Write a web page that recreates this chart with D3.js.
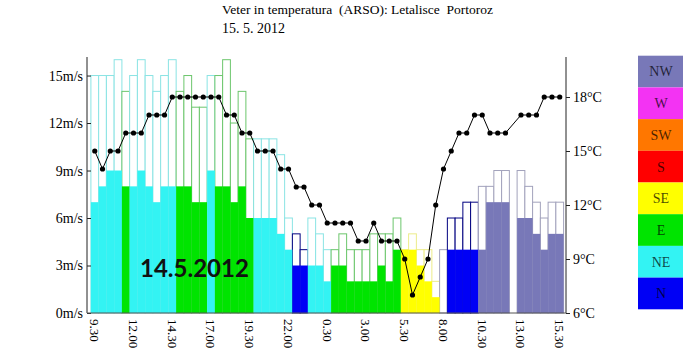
<!DOCTYPE html>
<html><head><meta charset="utf-8">
<script src="https://cdn.jsdelivr.net/npm/d3@7"></script>
<style>body{margin:0;background:#fff}svg{display:block}</style>
</head><body>
<svg id="c" width="700" height="363"></svg>
<script>
// half-hourly observations, 14.5.2012 9.30 -> 15.5.2012 15.30
const times = ["9.30","10.00","10.30","11.00","11.30","12.00","12.30","13.00","13.30","14.00",
  "14.30","15.00","15.30","16.00","16.30","17.00","17.30","18.00","18.30","19.00",
  "19.30","20.00","20.30","21.00","21.30","22.00","22.30","23.00","23.30","0.00",
  "0.30","1.00","1.30","2.00","2.30","3.00","3.30","4.00","4.30","5.00",
  "5.30","6.00","6.30","7.00","7.30","8.00","8.30","9.00","9.30","10.00",
  "10.30","11.00","11.30","12.00","12.30","13.00","13.30","14.00","14.30","15.00","15.30"];
const speed = [7,8,9,9,8,8,9,8,7,8, 8,8,8,7,7,9,8,8,7,8, 6,6,6,6,5,4,3,3,3,3,
  2,3,3,2,2,2,2,3,2,4, 4,4,3,2,1,0,4,4,4,4, 4,7,7,7,null,6,6,5,4,5,5];
const gust = [15,15,15,16,14,15,16,15,14,15, 16,14,15,13,13,15,15,16,12,14, 11,11,11,11,10,6,5,4,6,5,
  4,4,5,4,4,4,5,5,5,6, 4,5,4,4,2,4,6,6,7,7, 8,8,9,9,null,9,8,7,6,7,7];
const temp = [15,14,15,15,16,16,16,17,17,17, 18,18,18,18,18,18,18,17,17,16, 16,15,15,15,14,14,13,13,12,12,
  11,11,11,11,10,10,11,10,10,10, 9,7,8,9,12,14,15,16,16,17, 17,16,16,16,null,17,17,17,18,18,18];
const dirs = ["NE","NE","NE","NE","E","NE","NE","NE","NE","NE",
  "NE","E","E","E","E","NE","E","E","E","E",
  "E","NE","NE","NE","NE","NE","N","N","NE","NE",
  "NE","E","E","E","E","E","E","E","E","E",
  "SE","SE","SE","SE","SE","NW","N","N","N","N",
  "NW","NW","NW","NW",null,"NW","NW","NW","NW","NW","NW"];
const windTicks = [0,3,6,9,12,15];
const tempTicks = [6,9,12,15,18];
const legendDirs = ["NW","W","SW","S","SE","E","NE","N"];
const dirFill = {N:"#0000f5",NE:"#33f3f3",E:"#00e400",SE:"#ffff00",S:"#ff0000",SW:"#ff7700",W:"#f333f3",NW:"#7878b8"};
const dirStroke = {N:"#000080",NE:"#8ae4e4",E:"#6cc66c",SE:"#ecec8a",S:"#cc6666",SW:"#cc9966",W:"#cc88cc",NW:"#a2a2bc"};

const svg = d3.select("#c");
const x = d3.scaleBand().domain(d3.range(times.length)).range([90.9, 563.6]).padding(0);
const bw = x.bandwidth();
const yW = d3.scaleLinear().domain([0,16]).range([313, 59.7]);
const yT = d3.scaleLinear().domain([6,20]).range([313, 61]);
const rows = times.map((t,i)=>({i, t, s:speed[i], g:gust[i], temp:temp[i], d:dirs[i]}));
const valid = rows.filter(r=>r.s!=null);

// title
const title = svg.append("g").attr("font-family","Liberation Serif").attr("fill","#000");
title.append("text").attr("x",222).attr("y",13.5).attr("font-size",13.5).style("white-space","pre")
  .text("Veter in temperatura  (ARSO): Letalisce  Portoroz");
title.append("text").attr("x",222).attr("y",33).attr("font-size",14).style("white-space","pre").text("15. 5. 2012");

// gust outlines
svg.append("g").selectAll("rect").data(valid).join("rect")
  .attr("x",d=>x(d.i)).attr("width",bw)
  .attr("y",d=>yW(d.g)).attr("height",d=>yW(0)-yW(d.g))
  .attr("fill","#fff").attr("stroke",d=>dirStroke[d.d]).attr("stroke-width",1);
// mean wind speed
svg.append("g").selectAll("rect").data(valid.filter(d=>d.s>0)).join("rect")
  .attr("x",d=>x(d.i)).attr("width",bw)
  .attr("y",d=>yW(d.s)).attr("height",d=>yW(0)-yW(d.s))
  .attr("fill",d=>dirFill[d.d]);

// date label
svg.append("text").attr("x",140).attr("y",277).attr("font-family","Lato").attr("font-weight","bold")
  .attr("font-size",24).attr("fill","#111").text("14.5.2012");

// temperature line
const tRows = rows.filter(r=>r.temp!=null);
svg.append("path").datum(tRows)
  .attr("d",d3.line().x(d=>x(d.i)+bw/2).y(d=>yT(d.temp)))
  .attr("fill","none").attr("stroke","#000").attr("stroke-width",1);
svg.append("g").selectAll("circle").data(tRows).join("circle")
  .attr("cx",d=>x(d.i)+bw/2).attr("cy",d=>yT(d.temp)).attr("r",2.6).attr("fill","#000");

// axes
const gl = svg.append("g").attr("transform","translate(87,0)")
  .call(d3.axisLeft(yW).tickValues(windTicks).tickFormat(d=>d+"m/s").tickSizeInner(-4).tickSizeOuter(0).tickPadding(4));
const gr = svg.append("g").attr("transform","translate(566,0)")
  .call(d3.axisRight(yT).tickValues(tempTicks).tickFormat(d=>d+"°C").tickSizeInner(4).tickSizeOuter(0).tickPadding(3));
[gl,gr].forEach(g=>{
  g.attr("font-family","Liberation Serif").attr("font-size",14);
  g.selectAll("text").attr("fill","#000");
  g.selectAll("path,line").attr("stroke","#222");
});
gl.select(".domain").attr("d","M0,313V57");
gr.select(".domain").attr("d","M0,313V57");

const gx = svg.append("g").attr("transform","translate(0,313)")
  .call(d3.axisBottom(x).tickValues(d3.range(0,times.length,5)).tickFormat(i=>times[i]).tickSize(0));
gx.select(".domain").remove();
gx.append("line").attr("x1",87).attr("x2",566).attr("stroke","#555");
gx.attr("font-family","Liberation Serif").attr("font-size",13);
gx.selectAll("text").attr("fill","#000").attr("transform","rotate(90)")
  .attr("x",6).attr("y",0).attr("dy","0.35em").attr("text-anchor","start");

// legend
const lg = svg.append("g");
const lh = 31.7;
lg.selectAll("rect").data(legendDirs).join("rect")
  .attr("x",638).attr("y",(d,i)=>55.7+i*lh).attr("width",45).attr("height",lh)
  .attr("fill",d=>dirFill[d]);
lg.selectAll("text").data(legendDirs).join("text")
  .attr("x",661).attr("y",(d,i)=>55.7+i*lh+lh/2).attr("dy","0.35em")
  .attr("text-anchor","middle").attr("font-family","Liberation Serif").attr("font-size",14)
  .attr("fill","#000").attr("fill-opacity",0.72).text(d=>d);
</script>
</body></html>
